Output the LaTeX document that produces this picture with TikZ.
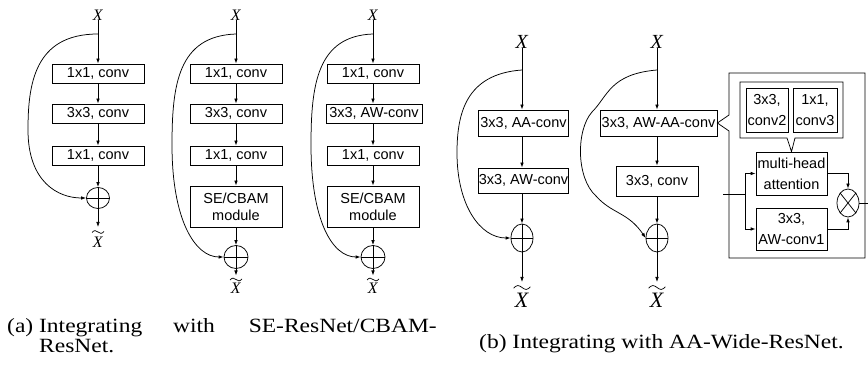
\documentclass[tikz,border=0pt]{standalone}
\usepackage{fontspec}
\usepackage{graphicx}
\setmainfont{Liberation Serif}
\setsansfont{Liberation Sans}
\usetikzlibrary{arrows.meta,shapes.geometric}
\tikzset{
  ln/.style={line width=0.75pt},
  arr/.style={ln,-{Latex[length=5pt,width=3.6pt]}},
  boxa/.style={draw,ln,inner sep=0pt,minimum width=92pt,minimum height=19pt,align=center,
    font=\sffamily\fontsize{14.5}{17}\selectfont},
  boxb/.style={draw,ln,inner sep=0pt,align=center,font=\sffamily\fontsize{14.5}{20}\selectfont},
  boxc/.style={draw,ln,inner sep=0pt,align=center,font=\sffamily\fontsize{14.5}{21}\selectfont},
  sumc/.style={draw,ln,ellipse,inner sep=0pt},
  xa/.style={inner sep=0pt,font=\fontsize{16}{16}\selectfont},
  xb/.style={inner sep=0pt,font=\fontsize{20}{20}\selectfont},
  xc/.style={inner sep=0pt,font=\fontsize{22}{22}\selectfont},
  capt/.style={inner sep=0pt,font=\fontsize{23.5}{24}\selectfont},
  tld/.pic={\draw[line width=0.7pt] (-6,0.5) sin (-3,-1.4) cos (0,0) sin (3,1.4) cos (6,-0.5);},
}
\newcommand{\capsq}[1]{\scalebox{1}[0.86]{#1}}
\begin{document}
\begin{tikzpicture}[x=1pt,y=-1pt]
\useasboundingbox (0,0) rectangle (868,379);
% ---------- column 1 ----------
\node[xa] (x1) at (98,15) {\textit{X}};
\node[boxa] (a1) at (98,73.5) {1x1, conv};
\node[boxa] (a2) at (98,113.5) {3x3, conv};
\node[boxa] (a3) at (98,155.5) {1x1, conv};
\node[sumc,minimum width=23pt,minimum height=21pt] (c1) at (98,198) {};
\node[xa] (y1) at (98,242) {\textit{X}};
\coordinate (t1) at (98,227);
\pic at (98,232) {tld};
\draw[arr] (x1) -- (a1);
\draw[arr] (a1) -- (a2);
\draw[arr] (a2) -- (a3);
\draw[arr] (a3) -- (c1.north);
\draw[arr] (c1.south) -- (t1);
\draw[ln] (c1.north) -- (c1.south) (c1.west) -- (c1.east);
\coordinate (s1) at (98,34);
\coordinate (m1) at (28,130);
\draw[arr] (s1) .. controls (34,34) and (28,85) .. (m1) .. controls (28,182) and (58,198) .. (c1.west);
% ---------- column 2 ----------
\node[xa] (x2) at (236,15) {\textit{X}};
\node[boxa] (b1) at (236,73.5) {1x1, conv};
\node[boxa] (b2) at (236,113.5) {3x3, conv};
\node[boxa] (b3) at (236,155.5) {1x1, conv};
\node[boxa,minimum height=41pt] (b4) at (236,206.5) {SE/CBAM\\module};
\node[sumc,minimum width=24pt,minimum height=23pt] (c2) at (236,257) {};
\node[xa] (y2) at (236,288) {\textit{X}};
\coordinate (t2) at (236,275.5);
\pic at (236,279.5) {tld};
\draw[arr] (x2) -- (b1);
\draw[arr] (b1) -- (b2);
\draw[arr] (b2) -- (b3);
\draw[arr] (b3) -- (b4);
\draw[arr] (b4) -- (c2.north);
\draw[arr] (c2.south) -- (t2);
\draw[ln] (c2.north) -- (c2.south) (c2.west) -- (c2.east);
\coordinate (s2) at (236,34);
\coordinate (m2) at (172,145);
\draw[arr] (s2) .. controls (178,36) and (172,85) .. (m2) .. controls (172,220) and (195,257) .. (c2.west);
% ---------- column 3 ----------
\node[xa] (x3) at (373,15) {\textit{X}};
\node[boxa] (g1) at (373,73.5) {1x1, conv};
\node[boxa,minimum width=96pt] (g2) at (374,113.5) {3x3, AW-conv};
\node[boxa] (g3) at (373,155.5) {1x1, conv};
\node[boxa,minimum height=41pt] (g4) at (373,206.5) {SE/CBAM\\module};
\node[sumc,minimum width=24pt,minimum height=23pt] (c3) at (373,257) {};
\node[xa] (y3) at (373,288) {\textit{X}};
\coordinate (t3) at (373,275.5);
\pic at (373,279.5) {tld};
\draw[arr] (x3) -- (g1);
\draw[arr] (g1.south) -- (g1.south|-g2.north);
\draw[arr] (g2.south-|g1.south) -- (g3);
\draw[arr] (g3) -- (g4);
\draw[arr] (g4) -- (c3.north);
\draw[arr] (c3.south) -- (t3);
\draw[ln] (c3.north) -- (c3.south) (c3.west) -- (c3.east);
\coordinate (s3) at (373,34);
\coordinate (m3) at (311,145);
\draw[arr] (s3) .. controls (317,36) and (311,85) .. (m3) .. controls (311,220) and (332,257) .. (c3.west);
% ---------- column 4 ----------
\node[xb] (x4) at (522,41.5) {\textit{X}};
\node[boxb,minimum width=90pt,minimum height=26pt] (d1) at (523.5,123) {3x3, AA-conv};
\node[boxb,minimum width=90pt,minimum height=25pt] (d2) at (523.5,180.5) {3x3, AW-conv};
\node[sumc,minimum width=22pt,minimum height=28pt] (c4) at (522,238) {};
\node[xc] (y4) at (522,300) {\textit{X}};
\coordinate (t4) at (522,282);
\pic[scale=1.4] at (522,287.5) {tld};
\draw[arr] (x4.south) -- (x4.south|-d1.north);
\draw[arr] (d1.south-|x4.south) -- (d2.north-|x4.south);
\draw[arr] (d2.south-|x4.south) -- (c4.north);
\draw[arr] (c4.south) -- (t4);
\draw[ln] (c4.north) -- (c4.south) (c4.west) -- (c4.east);
\coordinate (s4) at (522,70);
\coordinate (m4) at (457,153);
\draw[arr] (s4) .. controls (465,74) and (457,115) .. (m4) .. controls (457,205) and (480,238) .. (c4.west);
% ---------- column 5 ----------
\node[xb] (x5) at (657,41.5) {\textit{X}};
\node[boxb,minimum width=117pt,minimum height=26pt] (e1) at (658.5,123) {3x3, AW-AA-conv};
\node[boxb,minimum width=82pt,minimum height=30pt] (e2) at (657,181) {3x3, conv};
\node[sumc,minimum width=22pt,minimum height=28pt] (c5) at (657,238) {};
\node[xc] (y5) at (657,300) {\textit{X}};
\coordinate (t5) at (657,282);
\pic[scale=1.4] at (657,287.5) {tld};
\draw[arr] (x5.south) -- (x5.south|-e1.north);
\draw[arr] (e1.south-|x5.south) -- (e2.north);
\draw[arr] (e2) -- (c5.north);
\draw[arr] (c5.south) -- (t5);
\draw[ln] (c5.north) -- (c5.south) (c5.west) -- (c5.east);
\coordinate (s5) at (657,70);
\coordinate (m5) at (592,112);
\coordinate (n5) at (596,196);
\draw[arr] (s5) .. controls (610,74) and (608,96) .. (m5) .. controls (576,130) and (576,178) .. (n5) .. controls (612,214) and (628,212) .. (c5.west);
% ---------- expanded panel ----------
\coordinate (o1) at (729,73);
\coordinate (o2) at (865,73);
\coordinate (o3) at (865,258);
\coordinate (o4) at (729,258);
\coordinate (o5) at (729,131);
\coordinate (o6) at (729,115);
\draw[ln] (o6) -- (o1) -- (o2) -- (o3) -- (o4) -- (o5) -- (e1.east) -- cycle;
\node[boxc,minimum width=71pt,minimum height=43pt] (mh) at (791.5,173.5) {multi-head\\attention};
\node[boxc,minimum width=71pt,minimum height=42pt] (cv) at (791.5,229) {3x3,\\AW-conv1};
\coordinate (i1) at (740,82);
\coordinate (i2) at (843,82);
\coordinate (i3) at (843,138);
\coordinate (i4) at (795,138);
\coordinate (i5) at (787,138);
\coordinate (i6) at (740,138);
\draw[ln] (i1) -- (i2) -- (i3) -- (i4) -- (mh.north) -- (i5) -- (i6) -- cycle;
\node[boxc,minimum width=42pt,minimum height=44pt] (f1) at (767,110) {3x3,\\conv2};
\node[boxc,minimum width=44pt,minimum height=44pt] (f2) at (815,110) {1x1,\\conv3};
\node[sumc,minimum width=22pt,minimum height=28pt] (ot) at (848,203) {};
\draw[ln] (ot.north west) -- (ot.south east) (ot.north east) -- (ot.south west);
\coordinate (in) at (723,194);
\coordinate (br) at (745,194);
\coordinate (out) at (868,203);
\draw[ln] (in) -- (br);
\draw[arr] (br) |- (mh.west);
\draw[arr] (br) |- (cv.west);
\draw[arr] (mh.east) -| (ot.north);
\draw[arr] (cv.east) -| (ot.south);
\draw[ln] (ot.east) -- (out);
% ---------- captions ----------
\node[capt,anchor=base west] (ca1) at (7,333) {\capsq{(a) Integrating}};
\node[capt,anchor=base west] (ca2) at (173,333) {\capsq{with}};
\node[capt,anchor=base east] (ca3) at (437,333) {\capsq{SE-ResNet/CBAM-}};
\node[capt,anchor=base west] (ca4) at (39,353) {\capsq{ResNet.}};
\node[capt,anchor=base west] (cb) at (479,349) {\capsq{(b) Integrating with AA-Wide-ResNet.}};
\end{tikzpicture}
\end{document}
